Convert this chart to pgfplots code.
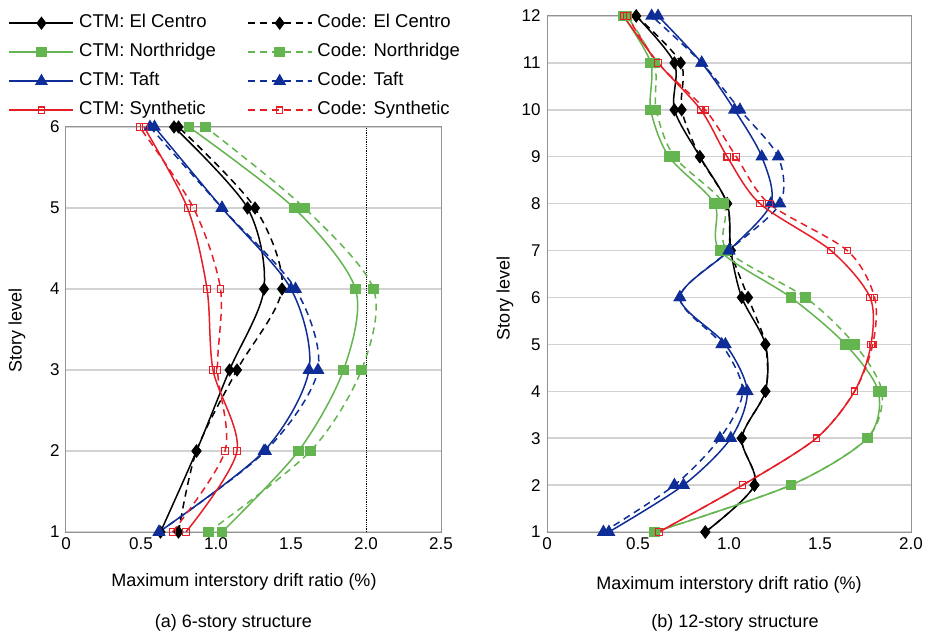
\documentclass[border=0pt]{standalone}
\usepackage{fontspec}
\setmainfont{Liberation Sans}
\usepackage{pgfplots}
\pgfplotsset{compat=1.18}
\definecolor{cgreen}{RGB}{100,180,80}
\definecolor{cblue}{RGB}{15,45,150}
\definecolor{cred}{RGB}{230,30,40}
\pgfplotsset{
  drift/.style={scale only axis, anchor=south west,
    axis line style={draw=gray!85, line width=1pt},
    ymajorgrids, major grid style={draw=gray!35, line width=1.5pt},
    major tick length=0pt,
    tick label style={font=\fontsize{17}{20}\selectfont},
    yticklabel style={xshift=-3pt},
    xticklabel style={yshift=-2pt},
    /pgf/number format/assume math mode=true, clip=false},
  ctm/.style={line width=1.5pt, smooth},
  code/.style={line width=1.5pt, smooth, dash pattern=on 7pt off 5pt},
  ec/.style={black, mark=diamond*, mark size=5.5pt, mark options={solid}},
  nr/.style={cgreen, mark=square*, mark size=4.5pt, mark options={solid}},
  tf/.style={cblue, mark=triangle*, mark size=6pt, mark options={solid}},
  sy/.style={cred, mark=square, mark size=3.2pt, mark options={solid, fill=white, line width=1.2pt}},
}
\begin{document}
\begin{tikzpicture}[x=1pt,y=1pt]
\useasboundingbox (0,0) rectangle (931,633);
\begin{axis}[drift, at={(66pt,101pt)}, width=375pt, height=405pt,
  xmin=0, xmax=2.5, ymin=1, ymax=6,
  xtick={0,0.5,1,1.5,2,2.5}, xticklabels={0,0.5,1.0,1.5,2.0,2.5},
  ytick={1,2,3,4,5,6},
  legend columns=2,
  legend style={draw=none, fill=none, at={(-0.1533,1.2778)}, anchor=north west,
    inner sep=0pt, font=\fontsize{18.5}{21}\selectfont,
    nodes={inner xsep=5pt, inner ysep=0pt, text height=13pt, text depth=4pt},
    row sep=12pt,
    /tikz/every even column/.append style={column sep=26pt}},
  legend cell align=left,
  legend image code/.code={\draw[mark repeat=2,mark phase=2] plot coordinates {(0pt,0pt) (32pt,0pt) (64pt,0pt)};}
]
\addplot[forget plot, black, densely dotted, line width=0.8pt] coordinates {(2,1) (2,6)};
\addplot[ctm, ec] coordinates {(0.63,1) (0.87,2) (1.09,3) (1.32,4) (1.21,5) (0.72,6)};
\addlegendentry{CTM: El Centro}
\addplot[code, ec] coordinates {(0.75,1) (0.87,2) (1.14,3) (1.44,4) (1.26,5) (0.75,6)};
\addlegendentry{Code: El Centro}
\addplot[ctm, nr] coordinates {(1.04,1) (1.55,2) (1.85,3) (1.93,4) (1.52,5) (0.82,6)};
\addlegendentry{CTM: Northridge}
\addplot[code, nr] coordinates {(0.95,1) (1.63,2) (1.97,3) (2.05,4) (1.59,5) (0.93,6)};
\addlegendentry{Code: Northridge}
\addplot[ctm, tf] coordinates {(0.62,1) (1.32,2) (1.62,3) (1.50,4) (1.04,5) (0.59,6)};
\addlegendentry{CTM: Taft}
\addplot[code, tf] coordinates {(0.62,1) (1.33,2) (1.68,3) (1.53,4) (1.04,5) (0.56,6)};
\addlegendentry{Code: Taft}
\addplot[ctm, sy] coordinates {(0.80,1) (1.14,2) (0.98,3) (0.94,4) (0.81,5) (0.52,6)};
\addlegendentry{CTM: Synthetic}
\addplot[code, sy] coordinates {(0.71,1) (1.06,2) (1.01,3) (1.03,4) (0.85,5) (0.49,6)};
\addlegendentry{Code: Synthetic}
\end{axis}
\begin{axis}[drift, at={(547pt,101pt)}, width=364pt, height=516pt,
  xmin=0, xmax=2, ymin=1, ymax=12,
  xtick={0,0.5,1,1.5,2}, xticklabels={0,0.5,1.0,1.5,2.0},
  ytick={1,2,...,12}]
\addplot[ctm, ec] coordinates {(0.87,1)(1.14,2)(1.07,3)(1.20,4)(1.20,5)(1.07,6)(1.01,7)(0.99,8)(0.84,9)(0.70,10)(0.70,11)(0.49,12)};
\addplot[code, ec] coordinates {(0.87,1)(1.14,2)(1.07,3)(1.20,4)(1.20,5)(1.105,6)(1.01,7)(0.99,8)(0.84,9)(0.74,10)(0.735,11)(0.49,12)};
\addplot[ctm, nr] coordinates {(0.59,1)(1.34,2)(1.76,3)(1.82,4)(1.64,5)(1.34,6)(0.95,7)(0.92,8)(0.67,9)(0.57,10)(0.57,11)(0.42,12)};
\addplot[code, nr] coordinates {(0.59,1)(1.34,2)(1.76,3)(1.84,4)(1.69,5)(1.42,6)(0.99,7)(0.97,8)(0.70,9)(0.60,10)(0.59,11)(0.44,12)};
\addplot[ctm, tf] coordinates {(0.34,1)(0.75,2)(1.01,3)(1.10,4)(0.98,5)(0.73,6)(1.00,7)(1.23,8)(1.18,9)(1.03,10)(0.85,11)(0.61,12)};
\addplot[code, tf] coordinates {(0.31,1)(0.70,2)(0.95,3)(1.075,4)(0.96,5)(0.73,6)(1.00,7)(1.28,8)(1.27,9)(1.06,10)(0.85,11)(0.575,12)};
\addplot[ctm, sy] coordinates {(0.615,1)(1.075,2)(1.48,3)(1.69,4)(1.78,5)(1.775,6)(1.56,7)(1.17,8)(0.99,9)(0.845,10)(0.61,11)(0.42,12)};
\addplot[code, sy] coordinates {(0.615,1)(1.075,2)(1.48,3)(1.69,4)(1.79,5)(1.80,6)(1.65,7)(1.22,8)(1.04,9)(0.87,10)(0.61,11)(0.44,12)};
\end{axis}
\begin{scope}[every node/.style={font=\fontsize{18}{21}\selectfont}]
\node at (244,51) {Maximum interstory drift ratio (\%)};
\node at (729,48) {Maximum interstory drift ratio (\%)};
\node at (233.5,10) {(a) 6-story structure};
\node at (735,10) {(b) 12-story structure};
\node[rotate=90] at (17,303) {Story level};
\node[rotate=90] at (505,335) {Story level};
\end{scope}
\end{tikzpicture}
\end{document}
